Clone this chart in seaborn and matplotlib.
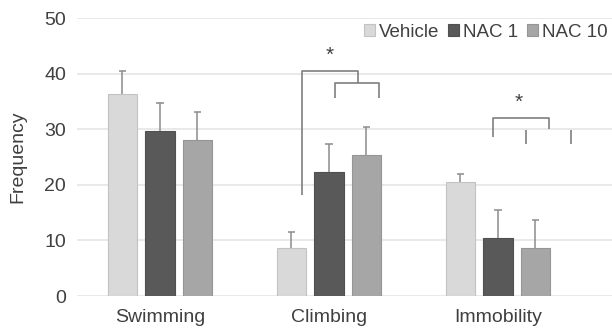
import matplotlib
matplotlib.use("Agg")
import matplotlib.pyplot as plt
import numpy as np
import pandas as pd
import seaborn as sns

behaviours = ["Swimming", "Climbing", "Immobility"]
groups = ["Vehicle", "NAC 1", "NAC 10"]
colors = ["#d9d9d9", "#595959", "#a6a6a6"]

# mean frequency per group, in behaviour order
vehicle = [36.4, 8.6, 20.6]
nac1 = [29.7, 22.3, 10.5]
nac10 = [28.1, 25.4, 8.7]

# upper error (SEM) per group
vehicle_err = [4.1, 3.0, 1.3]
nac1_err = [5.1, 5.1, 5.0]
nac10_err = [5.0, 5.0, 5.0]

sns.set_theme(style="white")
plt.rcParams["font.family"] = ["Liberation Sans", "DejaVu Sans"]

df = pd.DataFrame({
    "behaviour": behaviours * 3,
    "group": [g for g in groups for _ in behaviours],
    "freq": vehicle + nac1 + nac10,
    "err": vehicle_err + nac1_err + nac10_err,
})

fig = plt.figure(figsize=(6.12, 3.36), dpi=100)
ax = fig.add_axes([0.126, 0.119, 0.874, 0.8265])

sns.barplot(data=df, x="behaviour", y="freq", hue="group", order=behaviours,
            hue_order=groups, palette=colors, width=0.666, gap=0.22,
            errorbar=None, saturation=1, linewidth=0.8, ax=ax, zorder=3)

# bar outlines a touch darker than the fill
for bar in ax.patches:
    fc = np.array(bar.get_facecolor())
    bar.set_edgecolor(tuple(fc[:3] * 0.9) + (1,))

# upper-only error bars with a small cap
for container, g in zip(ax.containers, groups):
    sub = df[df["group"] == g].set_index("behaviour").loc[behaviours]
    xs = np.array([b.get_x() + b.get_width() / 2 for b in container])
    top = sub["freq"].values + sub["err"].values
    ax.vlines(xs, sub["freq"].values, top, color="#8c8c8c", lw=1.1, zorder=4)
    ax.hlines(top, xs - 0.022, xs + 0.022, color="#8c8c8c", lw=1.1, zorder=4)

ax.set_ylim(0, 50)
ax.set_xlim(-0.49, 2.675)
ax.set_yticks(range(0, 51, 10))
ax.yaxis.grid(True, color="#e3e3e3", linewidth=1.1, zorder=0)
ax.set_axisbelow(True)
for s in ax.spines.values():
    s.set_visible(False)
ax.tick_params(axis="both", length=0, labelsize=14, colors="#595959")
ax.tick_params(axis="y", pad=8)
ax.tick_params(axis="x", pad=9)
for lab in ax.get_xticklabels() + ax.get_yticklabels():
    lab.set_color("#404040")
ax.set_xlabel("")
ax.set_ylabel("Frequency", fontsize=14, color="#404040", labelpad=13)

# significance brackets
bk = dict(color="#7f7f7f", lw=1.2, zorder=5, solid_capstyle="butt")
ax.plot([0.838, 0.838, 1.170, 1.170], [18.2, 40.5, 40.5, 38.4], **bk)
ax.plot([1.036, 1.036, 1.298, 1.298], [35.6, 38.4, 38.4, 35.6], **bk)
ax.text(1.006, 43.3, "*", ha="center", va="center", fontsize=15, color="#404040")

ax.plot([1.969, 1.969, 2.300, 2.300], [28.7, 32.1, 32.1, 30.0], **bk)
ax.plot([2.166, 2.166], [27.3, 29.9], **bk)
ax.plot([2.430, 2.430], [27.3, 29.9], **bk)
ax.text(2.124, 34.9, "*", ha="center", va="center", fontsize=15, color="#404040")

handles, labels = ax.get_legend_handles_labels()
ax.legend(handles, labels, loc="center right", bbox_to_anchor=(1.005, 0.95),
          ncol=3, frameon=False, fontsize=13.5, handlelength=0.6,
          handleheight=0.6, handletextpad=0.2, columnspacing=0.45,
          borderaxespad=0, labelcolor="#404040")

fig.savefig("out.png", dpi=100)
